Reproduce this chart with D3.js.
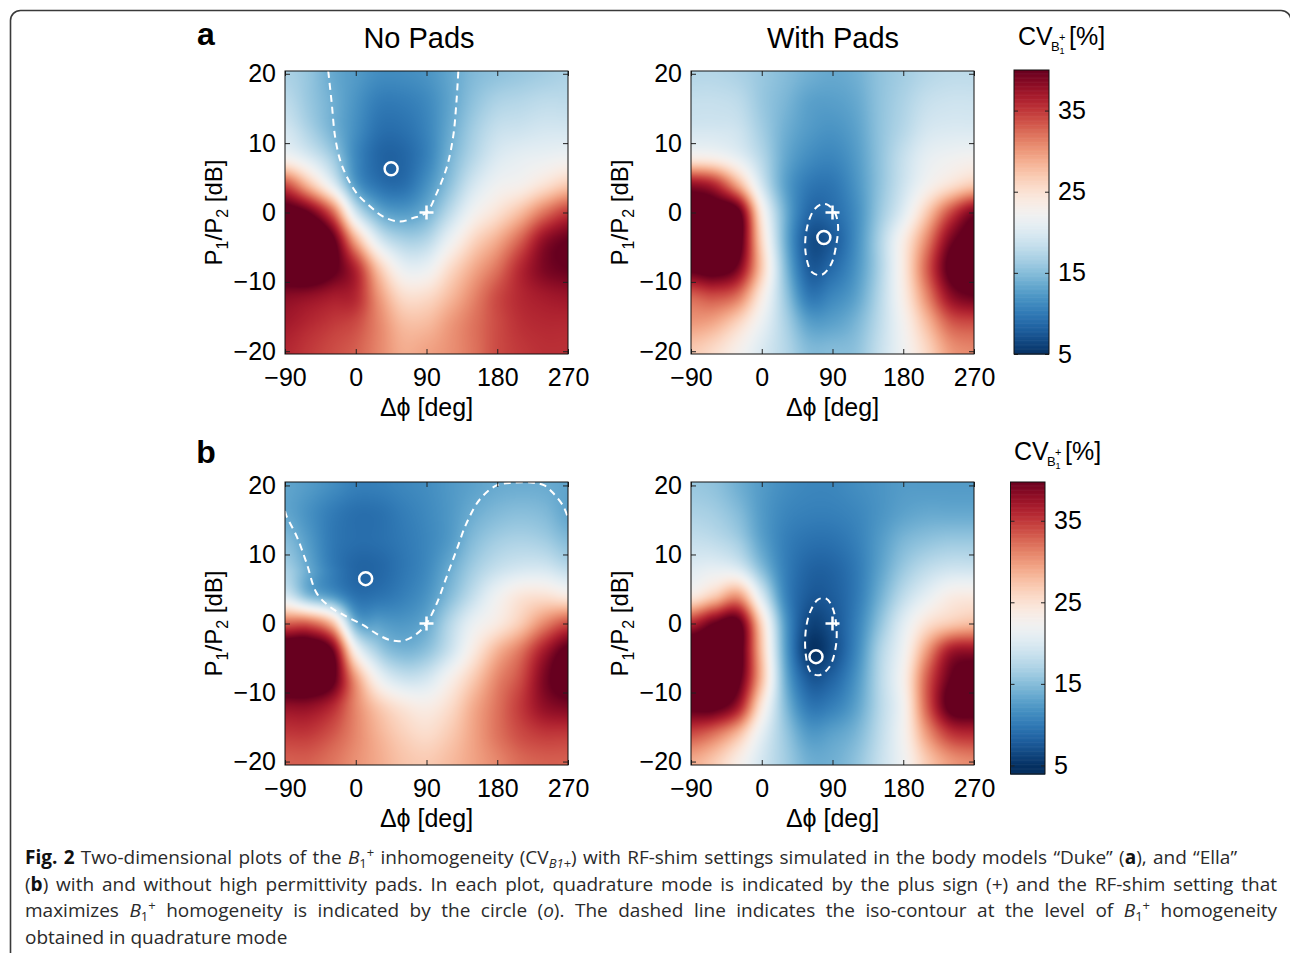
<!DOCTYPE html>
<html><head><meta charset="utf-8">
<script src="https://cdn.jsdelivr.net/npm/d3@7"></script>
<style>body{margin:0;background:#fff}svg{display:block}</style>
</head><body>
<svg id="c" width="1290" height="953"></svg>
<script>
// ---------------- data ----------------
const phaseTicks = [-90, 0, 90, 180, 270];
const powerTicks = [-20, -10, 0, 10, 20];
const cvTicks = [5, 15, 25, 35];
const phaseGrid = [-90, -60, -30, 0, 30, 60, 90, 120, 150, 180, 210, 240, 270];
const powerGrid = [20, 16, 12, 8, 4, 0, -4, -8, -12, -16, -20];

// CV (%), rows = powerGrid, cols = phaseGrid
const cvDukeNoPads = [
  [17, 15.8, 13.6, 12.5, 11.5, 11.5, 12, 13.3, 14.8, 15.5, 16, 16.5, 17],
  [18, 16, 14, 12, 10.3, 10.3, 11.2, 13.2, 15.5, 17, 17.5, 18, 18],
  [19.5, 17, 14.3, 11.6, 9.4, 9.4, 10.8, 13.6, 16.5, 18.5, 19, 19.5, 19.5],
  [22.5, 20, 16.5, 11.2, 8.6, 8.6, 10.6, 14.3, 17.5, 20, 21, 21.5, 22],
  [34, 28, 21, 12.6, 9.5, 9.2, 11.8, 15.5, 19.5, 22, 23, 25, 27],
  [42, 40, 33, 19.5, 13.8, 12.5, 14, 18, 22.3, 25, 28, 32, 35],
  [44, 45, 41, 29, 20, 17, 17.5, 21.7, 26, 29, 33, 38, 40],
  [43, 44, 41, 36, 27, 21.5, 21.5, 25.5, 29, 32, 36, 39, 40],
  [38.5, 38, 37, 36, 30, 25.5, 25.5, 28, 31, 34, 36, 37, 37.5],
  [37, 36, 35, 34, 31, 28, 28, 30, 32, 34, 35.5, 36, 36],
  [36, 35, 34, 33, 31, 29, 29.5, 30.5, 32, 34, 35, 35.5, 35.5]
];
const cvDukeWithPads = [
  [17.5, 17.5, 17, 16, 15, 14, 13.5, 14, 15.5, 16.5, 17.5, 18, 18],
  [18.5, 18.5, 18, 16, 14.5, 13, 12.8, 13.5, 15.5, 17, 18.5, 19, 19],
  [19.5, 19.5, 19, 16.5, 14, 12.5, 12, 13, 15.5, 17.5, 19.5, 20, 20],
  [23.5, 23, 21, 17.5, 13.5, 11.5, 11, 12.5, 15.5, 18.5, 21, 22, 22.5],
  [38, 36, 29, 19.5, 13, 10, 9.8, 12, 15.5, 19, 22.5, 25, 27],
  [43, 43, 41, 24, 14, 8.8, 9, 11.5, 16, 20.5, 27, 34, 39],
  [45, 45, 42, 26, 14, 7.3, 7.8, 11.5, 17, 23.5, 31, 39, 42],
  [41, 42, 39, 27, 15, 8.0, 9, 12, 17, 24, 33, 41, 43],
  [33, 34, 32, 24, 16, 10, 11, 13, 17.5, 23.5, 31, 38, 40],
  [30, 29, 26, 21.5, 17, 13, 13, 14.5, 18, 22.5, 28, 33, 34],
  [27, 25.5, 23, 20, 17.5, 15, 15, 15.5, 18.5, 22, 26, 30, 31]
];
const cvEllaNoPads = [
  [13.2, 12.5, 11.5, 10.5, 10.5, 11, 11.5, 12.3, 13, 13.6, 13.8, 13.7, 13.2],
  [13.3, 11.8, 10.2, 9.3, 9.4, 10.3, 11.2, 12.3, 13.8, 14.8, 15.2, 14.8, 13.3],
  [15, 12.5, 10, 9.2, 9.3, 10, 11, 12.5, 15, 16.5, 17, 16.5, 15],
  [16.8, 13.5, 10.3, 8.6, 8.7, 9.8, 11.2, 13.7, 16.5, 18.5, 19.5, 19.5, 18],
  [20, 15, 12.5, 9.5, 9.6, 10.5, 12, 15, 18.5, 22, 24.5, 25, 24],
  [33, 33, 28, 14.2, 12.8, 12.3, 13.5, 17.5, 21.5, 24, 27, 31, 34],
  [44, 44, 40, 23, 16.5, 14.5, 15.5, 19, 24, 28.5, 32, 37, 41],
  [44, 44, 41, 30, 22, 19, 19.5, 23, 27, 31, 34, 39, 42],
  [38, 38, 36, 31, 27, 24.5, 23.5, 25.5, 29, 32, 35, 38, 39],
  [35, 35, 33.5, 31, 28.5, 26.5, 25.5, 27, 29.5, 32, 34, 35, 35],
  [33, 33, 32, 30.5, 29, 27.5, 27, 28, 29.5, 31, 32.5, 33, 33]
];
const cvEllaWithPads = [
  [16, 15.5, 14, 12.5, 11.5, 11, 11, 11.5, 12, 12.5, 12.5, 12.5, 12.5],
  [17, 16.5, 15, 12.5, 11, 10.5, 10.5, 11, 12, 13, 13.5, 13.5, 13.5],
  [18.5, 18, 16.5, 13, 10.5, 9.5, 9.5, 10.5, 12.5, 14.5, 15.5, 16, 16],
  [20.5, 21, 20, 15, 10.5, 8.5, 8.5, 10, 13, 16, 18, 19, 19],
  [24, 27, 30, 20, 11, 7.8, 8, 10, 14, 18, 21, 23.5, 24],
  [36, 40, 41, 26, 12.5, 6.5, 7.3, 10.5, 15.5, 20.5, 25, 27, 28],
  [44, 44, 42, 27.5, 13, 5.5, 6.8, 11, 17, 22, 30, 37, 38],
  [44, 44, 41, 28, 14, 7.8, 8.5, 12, 17.5, 23, 33, 40, 42],
  [41, 41, 37, 24.5, 15, 10, 10.5, 13, 17.5, 22.5, 33, 41, 42],
  [34, 32, 28, 21, 16, 12.5, 13, 14.5, 18, 22.5, 30, 35, 36],
  [29, 27, 23.5, 19.5, 16.5, 14, 14, 15.5, 18.5, 22, 27, 30, 31]
];

// iso-contours at quadrature level: [phase deg, power dB]
const isoDukeNoPads = [[-35,20.4],[-30.6,15.8],[-26.4,11],[-20,7.6],[-11.5,5.2],[1,2.8],[18,0.9],[35,-0.6],[56,-1.3],[73,-0.8],[90,0],[103,2.8],[116,6.6],[124,11],[128,15.8],[130.5,20.4]];
const isoDukeWithPads = [[84,1.1],[93,0],[97,-1.8],[95,-4.5],[88,-7.5],[76,-9],[64,-8.6],[56,-6],[57,-2.5],[66,0.3],[76,1.2]];
const isoEllaNoPads = [[-90,16.3],[-87.8,15.5],[-75,12.6],[-62.4,8.7],[-49.7,4.4],[-32.7,2.4],[-11.5,1.0],[9.6,-0.25],[26.6,-1.5],[43.6,-2.4],[60.5,-2.5],[77.5,-1.5],[90,0],[103,2.9],[115.7,6.8],[128.4,10.7],[141.2,14.6],[158,18],[179,20],[200,20.4],[225,20.4],[240,20],[251,18.9],[264,17],[270,15.3]];
const isoEllaWithPads = [[82,3.6],[90,2.3],[95,-0.5],[94,-3.5],[86,-6.3],[73,-7.5],[62,-7],[56,-4.5],[56,-1],[62,1.8],[72,3.5]];

const quadrature = [90, 0];
const optDukeNoPads = [45, 6.3];
const optDukeWithPads = [79, -3.6];
const optEllaNoPads = [12.6, 6.5];
const optEllaWithPads = [69, -4.8];

const titles = ["No Pads", "With Pads"];
const panelLetters = ["a", "b"];

// ---------------- drawing ----------------
const svg = d3.select("#c");
const FONT = "'Liberation Sans', Arial, Helvetica, sans-serif";
const color = d3.scaleSequential(t => d3.interpolateRdBu(1 - t)).domain([5, 40]).clamp(true);
const lut = d3.range(0, 801).map(k => d3.rgb(color(5 + k * 0.05)));
function colorOf(v) { const k = Math.max(0, Math.min(800, Math.round((v - 5) / 0.05))); return lut[k]; }

function cr(p0, p1, p2, p3, t) {
  return p1 + 0.5 * t * (p2 - p0 + t * (2 * p0 - 5 * p1 + 4 * p2 - p3 + t * (3 * (p1 - p2) + p3 - p0)));
}
function sampleGrid(grid, phase, power) {
  const nx = phaseGrid.length, ny = powerGrid.length;
  let fx = (phase - phaseGrid[0]) / (phaseGrid[1] - phaseGrid[0]);
  let fy = (powerGrid[0] - power) / (powerGrid[0] - powerGrid[1]);
  fx = Math.max(0, Math.min(nx - 1, fx)); fy = Math.max(0, Math.min(ny - 1, fy));
  const ix = Math.min(nx - 2, Math.floor(fx)), iy = Math.min(ny - 2, Math.floor(fy));
  const tx = fx - ix, ty = fy - iy;
  const g = (r, c) => grid[Math.max(0, Math.min(ny - 1, r))][Math.max(0, Math.min(nx - 1, c))];
  const rows = [];
  for (let m = -1; m <= 2; m++) rows.push(cr(g(iy + m, ix - 1), g(iy + m, ix), g(iy + m, ix + 1), g(iy + m, ix + 2), tx));
  return cr(rows[0], rows[1], rows[2], rows[3], ty);
}

const defs = svg.append("defs");
let clipId = 0;

function drawPanel(p) {
  const g = svg.append("g");
  const x = d3.scaleLinear().domain([-90, 270]).range([p.x0, p.x1]);
  const y = d3.scaleLinear().domain(p.yDomain).range([p.y1, p.y0]);
  const w = Math.round(p.x1 - p.x0), h = Math.round(p.y1 - p.y0);
  const canvas = document.createElement("canvas");
  canvas.width = w; canvas.height = h;
  const ctx = canvas.getContext("2d");
  const img = ctx.createImageData(w, h);
  for (let j = 0; j < h; j++) {
    const pw = y.invert(p.y0 + j + 0.5);
    for (let i = 0; i < w; i++) {
      const ph = x.invert(p.x0 + i + 0.5);
      const c = colorOf(sampleGrid(p.grid, ph, pw));
      const k = 4 * (j * w + i);
      img.data[k] = c.r; img.data[k + 1] = c.g; img.data[k + 2] = c.b; img.data[k + 3] = 255;
    }
  }
  ctx.putImageData(img, 0, 0);
  g.append("image").attr("x", p.x0).attr("y", p.y0).attr("width", w).attr("height", h)
    .attr("preserveAspectRatio", "none").attr("href", canvas.toDataURL());

  const id = "clip" + (clipId++);
  defs.append("clipPath").attr("id", id).append("rect").attr("x", p.x0).attr("y", p.y0).attr("width", w).attr("height", h);

  // iso contour
  const line = d3.line().x(d => x(d[0])).y(d => y(d[1])).curve(p.closed ? d3.curveCatmullRomClosed : d3.curveCatmullRom);
  g.append("path").attr("clip-path", `url(#${id})`).attr("d", line(p.iso)).attr("fill", "none")
    .attr("stroke", "#fff").attr("stroke-width", 2).attr("stroke-dasharray", "7,5");
  // markers
  g.append("circle").attr("cx", x(p.opt[0])).attr("cy", y(p.opt[1])).attr("r", 6.5)
    .attr("fill", "none").attr("stroke", "#fff").attr("stroke-width", 2.5);
  g.append("path").attr("transform", `translate(${x(quadrature[0])},${y(quadrature[1])})`)
    .attr("d", "M-7,0H7M0,-7V7").attr("stroke", "#fff").attr("stroke-width", 2.5);

  // axes (inner ticks, box)
  const styleAxis = sel => {
    sel.select(".domain").remove();
    sel.attr("font-family", FONT).attr("font-size", 25);
    sel.selectAll("line").attr("stroke", "#222");
    sel.selectAll("text").attr("fill", "#000");
  };
  g.append("g").attr("transform", `translate(0,${p.y1})`)
    .call(d3.axisBottom(x).tickValues(phaseTicks).tickSizeInner(-5).tickSizeOuter(0).tickPadding(14)).call(styleAxis);
  g.append("g").attr("transform", `translate(0,${p.y0})`)
    .call(d3.axisTop(x).tickValues(phaseTicks).tickSizeInner(-5).tickSizeOuter(0).tickFormat("")).call(styleAxis);
  g.append("g").attr("transform", `translate(${p.x0},0)`)
    .call(d3.axisLeft(y).tickValues(powerTicks).tickSizeInner(-5).tickSizeOuter(0).tickPadding(9)).call(styleAxis);
  g.append("g").attr("transform", `translate(${p.x1},0)`)
    .call(d3.axisRight(y).tickValues(powerTicks).tickSizeInner(-5).tickSizeOuter(0).tickFormat("")).call(styleAxis);
  g.append("rect").attr("x", p.x0).attr("y", p.y0).attr("width", w).attr("height", h)
    .attr("fill", "none").attr("stroke", "#111").attr("stroke-width", 1);

  // axis labels
  g.append("text").attr("x", (p.x0 + p.x1) / 2).attr("y", p.y1 + 62)
    .attr("text-anchor", "middle").attr("font-family", FONT).attr("font-size", 25).text("Δϕ [deg]");
  const yl = g.append("text").attr("transform", `translate(${p.x0 - 63},${(p.y0 + p.y1) / 2}) rotate(-90)`)
    .attr("text-anchor", "middle").attr("font-family", FONT).attr("font-size", 24);
  yl.append("tspan").text("P");
  yl.append("tspan").attr("font-size", 16).attr("dy", 6).text("1");
  yl.append("tspan").attr("dy", -6).text("/P");
  yl.append("tspan").attr("font-size", 16).attr("dy", 6).text("2");
  yl.append("tspan").attr("dy", -6).text(" [dB]");
}

function drawColorbar(cb) {
  const g = svg.append("g");
  const y = d3.scaleLinear().domain(cb.domain).range([cb.y1, cb.y0]);
  const step = 0.1;
  const vals = d3.range(cb.domain[0], cb.domain[1], step);
  g.selectAll("rect.s").data(vals).join("rect")
    .attr("x", cb.x0).attr("width", cb.x1 - cb.x0)
    .attr("y", d => y(Math.min(cb.domain[1], d + step))).attr("height", d => y(d) - y(Math.min(cb.domain[1], d + step)) + 0.6)
    .attr("fill", d => color(d + step / 2));
  const styleAxis = sel => {
    sel.select(".domain").remove();
    sel.attr("font-family", FONT).attr("font-size", 25);
    sel.selectAll("line").attr("stroke", "#222");
    sel.selectAll("text").attr("fill", "#000");
  };
  g.append("g").attr("transform", `translate(${cb.x1},0)`)
    .call(d3.axisRight(y).tickValues(cvTicks).tickSizeInner(-4).tickSizeOuter(0).tickPadding(9)).call(styleAxis);
  g.append("g").attr("transform", `translate(${cb.x0},0)`)
    .call(d3.axisLeft(y).tickValues(cvTicks).tickSizeInner(-4).tickSizeOuter(0).tickFormat("")).call(styleAxis);
  g.append("rect").attr("x", cb.x0).attr("y", cb.y0).attr("width", cb.x1 - cb.x0).attr("height", cb.y1 - cb.y0)
    .attr("fill", "none").attr("stroke", "#111").attr("stroke-width", 1);
  // label CV_{B1+} [%]
  const lx = cb.lx, ly = cb.ly;
  g.append("text").attr("x", lx).attr("y", ly).attr("font-family", FONT).attr("font-size", 25).text("CV");
  g.append("text").attr("x", lx + 33).attr("y", ly + 6).attr("font-family", FONT).attr("font-size", 13).text("B");
  g.append("text").attr("x", lx + 41).attr("y", ly - 4).attr("font-family", FONT).attr("font-size", 11).text("+");
  g.append("text").attr("x", lx + 41.5).attr("y", ly + 9).attr("font-family", FONT).attr("font-size", 9).text("1");
  g.append("text").attr("x", lx + 51).attr("y", ly).attr("font-family", FONT).attr("font-size", 25).text("[%]");
}

// frame
svg.append("path").attr("d", "M10.5,960V20.5A10,10 0 0 1 20.5,10.5H1281A10,10 0 0 1 1291,20.5V960")
  .attr("fill", "none").attr("stroke", "#3a3a3a").attr("stroke-width", 1.6);

const rowsGeom = [
  { y0: 71, y1: 354, yDomain: [-20.4, 20.4], cb: { x0: 1014, x1: 1049, y0: 70, y1: 354, domain: [5, 40], lx: 1018, ly: 45 } },
  { y0: 482, y1: 765, yDomain: [-20.5, 20.5], cb: { x0: 1010.5, x1: 1045, y0: 482, y1: 774, domain: [3.95, 39.75], lx: 1014, ly: 460 } }
];
const panels = [
  { grid: cvDukeNoPads, iso: isoDukeNoPads, opt: optDukeNoPads, closed: false, x0: 285, x1: 568, ...rowsGeom[0] },
  { grid: cvDukeWithPads, iso: isoDukeWithPads, opt: optDukeWithPads, closed: true, x0: 691, x1: 974, ...rowsGeom[0] },
  { grid: cvEllaNoPads, iso: isoEllaNoPads, opt: optEllaNoPads, closed: false, x0: 285, x1: 568, ...rowsGeom[1] },
  { grid: cvEllaWithPads, iso: isoEllaWithPads, opt: optEllaWithPads, closed: true, x0: 691, x1: 974, ...rowsGeom[1] }
];
panels.forEach(drawPanel);
rowsGeom.forEach(r => drawColorbar(r.cb));

// titles and letters
svg.append("text").attr("x", 419).attr("y", 48).attr("text-anchor", "middle").attr("font-family", FONT).attr("font-size", 29).text(titles[0]);
svg.append("text").attr("x", 833).attr("y", 48).attr("text-anchor", "middle").attr("font-family", FONT).attr("font-size", 29).text(titles[1]);
svg.append("text").attr("x", 206).attr("y", 45).attr("text-anchor", "middle").attr("font-family", FONT).attr("font-size", 32).attr("font-weight", "bold").text(panelLetters[0]);
svg.append("text").attr("x", 206).attr("y", 463).attr("text-anchor", "middle").attr("font-family", FONT).attr("font-size", 32).attr("font-weight", "bold").text(panelLetters[1]);

// caption
const captionLines = [
  { w: 1212, parts: [{ t: "Fig. 2", b: 1 }, { t: " Two-dimensional plots of the " }, { t: "B", i: 1 }, { t: "1", s: 4 }, { t: "+", s: -7 }, { t: " inhomogeneity (CV" }, { t: "B1+", i: 1, s: 4 }, { t: ") with RF-shim settings simulated in the body models “Duke” (" }, { t: "a", b: 1 }, { t: "), and “Ella”" }] },
  { w: 1252, parts: [{ t: "(" }, { t: "b", b: 1 }, { t: ") with and without high permittivity pads. In each plot, quadrature mode is indicated by the plus sign (+) and the RF-shim setting that" }] },
  { w: 1252, parts: [{ t: "maximizes " }, { t: "B", i: 1 }, { t: "1", s: 4 }, { t: "+", s: -7 }, { t: " homogeneity is indicated by the circle (" }, { t: "o", i: 1 }, { t: "). The dashed line indicates the iso-contour at the level of " }, { t: "B", i: 1 }, { t: "1", s: 4 }, { t: "+", s: -7 }, { t: " homogeneity" }] },
  { w: 0, parts: [{ t: "obtained in quadrature mode" }] }
];
captionLines.forEach((ln, li) => {
  const t = svg.append("text").attr("x", 25).attr("y", 864 + li * 26.5)
    .attr("font-family", "'Open Sans', 'Noto Sans', sans-serif").attr("font-size", 19).attr("fill", "#2a2a2a");
  let cur = 0;
  ln.parts.forEach(pt => {
    const sh = pt.s || 0;
    const ts = t.append("tspan").text(pt.t).attr("dy", sh - cur);
    cur = sh;
    if (pt.b) ts.attr("font-weight", "bold").attr("fill", "#111");
    if (pt.i) ts.attr("font-style", "italic");
    if (pt.s) ts.attr("font-size", 13);
  });
  if (ln.w) {
    const natural = t.node().getComputedTextLength();
    const spaces = (t.text().match(/ /g) || []).length;
    t.attr("word-spacing", (ln.w - natural) / spaces);
  }
});
</script>
</body></html>
